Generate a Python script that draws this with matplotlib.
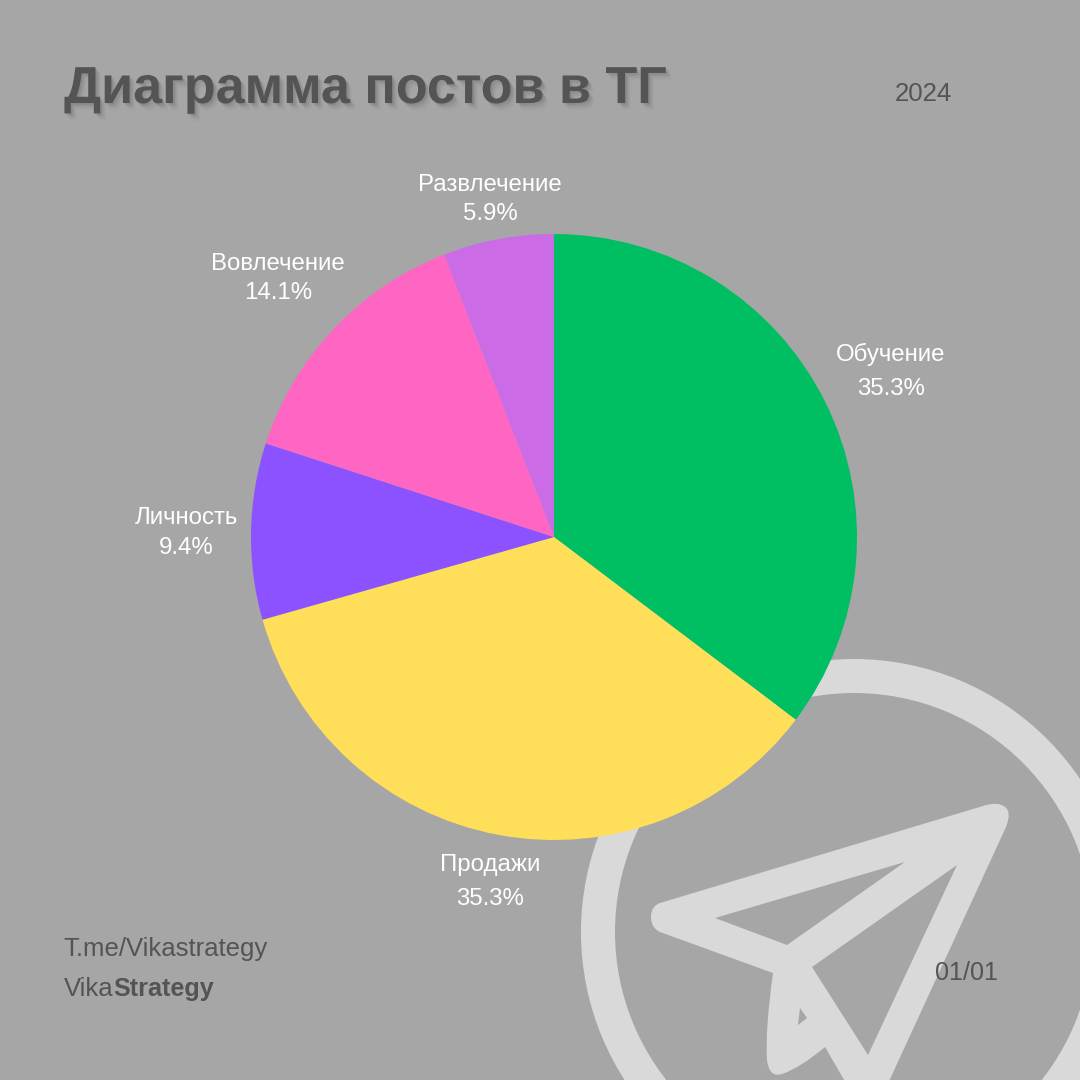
import matplotlib
matplotlib.use("Agg")
import matplotlib.pyplot as plt
import matplotlib.patheffects as pe
from matplotlib.patches import Circle, Polygon, PathPatch
from matplotlib.path import Path

plt.rcParams["font.family"] = ["Liberation Sans", "DejaVu Sans"]

# Data
categories = ["Обучение", "Продажи", "Личность", "Вовлечение", "Развлечение"]
values = [35.3, 35.3, 9.4, 14.1, 5.9]
colors = ["#00BF63", "#FFDE59", "#8C52FF", "#FF66C4", "#CB6CE6"]

# label positions in pixels: x, y of name, y of percent
label_pos = [(891, 354, 389), (490, 865, 899), (186, 518, 548), (278, 264, 293), (490, 185, 214)]

BG = "#A6A6A6"
LIGHT = "#D9D9D9"
DARK = "#545454"

fig = plt.figure(figsize=(10.8, 10.8), dpi=100, facecolor=BG)
ax = fig.add_axes([0, 0, 1, 1])
ax.set_facecolor(BG)

# ---------------------------------
# Telegram icon behind the pie
# ---------------------------------
ax.add_patch(Circle((854, 932), 256, fill=False, edgecolor=LIGHT, linewidth=34 * 0.72, zorder=1))

M, L, C = Path.MOVETO, Path.LINETO, Path.CURVE3
plane = [
    ((983, 806), M), ((660, 903), L),
    ((651, 906), C), ((651, 917), C), ((651, 928), C), ((660, 932), C),
    ((773, 973), L),
    ((765, 1030), C), ((767, 1060), C), ((769, 1078), C), ((782, 1074), C),
    ((800, 1068), C), ((825, 1047), C),
    ((850, 1090), L), ((885, 1090), L),
    ((1006, 827), L),
    ((1012, 812), C), ((1005, 807), C), ((998, 801), C), ((983, 806), C),
]
ax.add_patch(PathPatch(Path([p for p, c in plane], [c for p, c in plane]),
                       facecolor=LIGHT, edgecolor="none", zorder=1.1))

holes = [[(905, 862), (715, 918), (787, 945)],
         [(957, 865), (812, 967), (868, 1055)],
         [(800, 1008), (807, 1018), (798, 1025)]]
for hole in holes:
    ax.add_patch(Polygon(hole, closed=True, facecolor=BG, edgecolor="none", zorder=1.2))

# ---------------------------------
# Pie chart
# ---------------------------------
# y axis is flipped, so counterclock here is clockwise on screen
wedges, _ = ax.pie(values, colors=colors, startangle=-90, counterclock=True,
                   center=(554, 537), radius=303, frame=True)
for w in wedges:
    w.set_zorder(2)
    w.set_linewidth(0)

ax.set_xlim(0, 1080)
ax.set_ylim(1080, 0)
ax.set_aspect("equal")
ax.axis("off")

for name, val, (x, y1, y2) in zip(categories, values, label_pos):
    ax.text(x, y1, name, color="white", fontsize=17.3, ha="center", va="center", zorder=3)
    ax.text(x, y2, f"{val}%", color="white", fontsize=17.3, ha="center", va="center", zorder=3)

# ---------------------------------
# Title and footer
# ---------------------------------
shadow = [pe.SimplePatchShadow(offset=(dx, -dy), shadow_rgbFace="#404040", alpha=a)
          for dx, dy, a in [(4, 5, 0.04), (3, 3.5, 0.07), (2, 2, 0.10), (1, 1, 0.10)]]
ax.text(64, 103, "Диаграмма постов в ТГ", color=DARK, fontsize=37.5, fontweight="bold",
        ha="left", va="baseline", zorder=4, path_effects=shadow + [pe.Normal()])

ax.text(923, 94, "2024", color=DARK, fontsize=18.6, ha="center", va="center", zorder=3)
ax.text(63, 949, "T.me/Vikastrategy", color=DARK, fontsize=18.5, ha="left", va="center", zorder=3)
ax.text(64, 989, "Vika", color=DARK, fontsize=18.5, ha="left", va="center", zorder=3)
ax.text(113, 989, "Strategy", color=DARK, fontsize=18.2, fontweight="bold",
        ha="left", va="center", zorder=3)
ax.text(966, 973, "01/01", color=DARK, fontsize=18.1, ha="center", va="center", zorder=3)

fig.savefig("out.png", dpi=100, facecolor=BG)
